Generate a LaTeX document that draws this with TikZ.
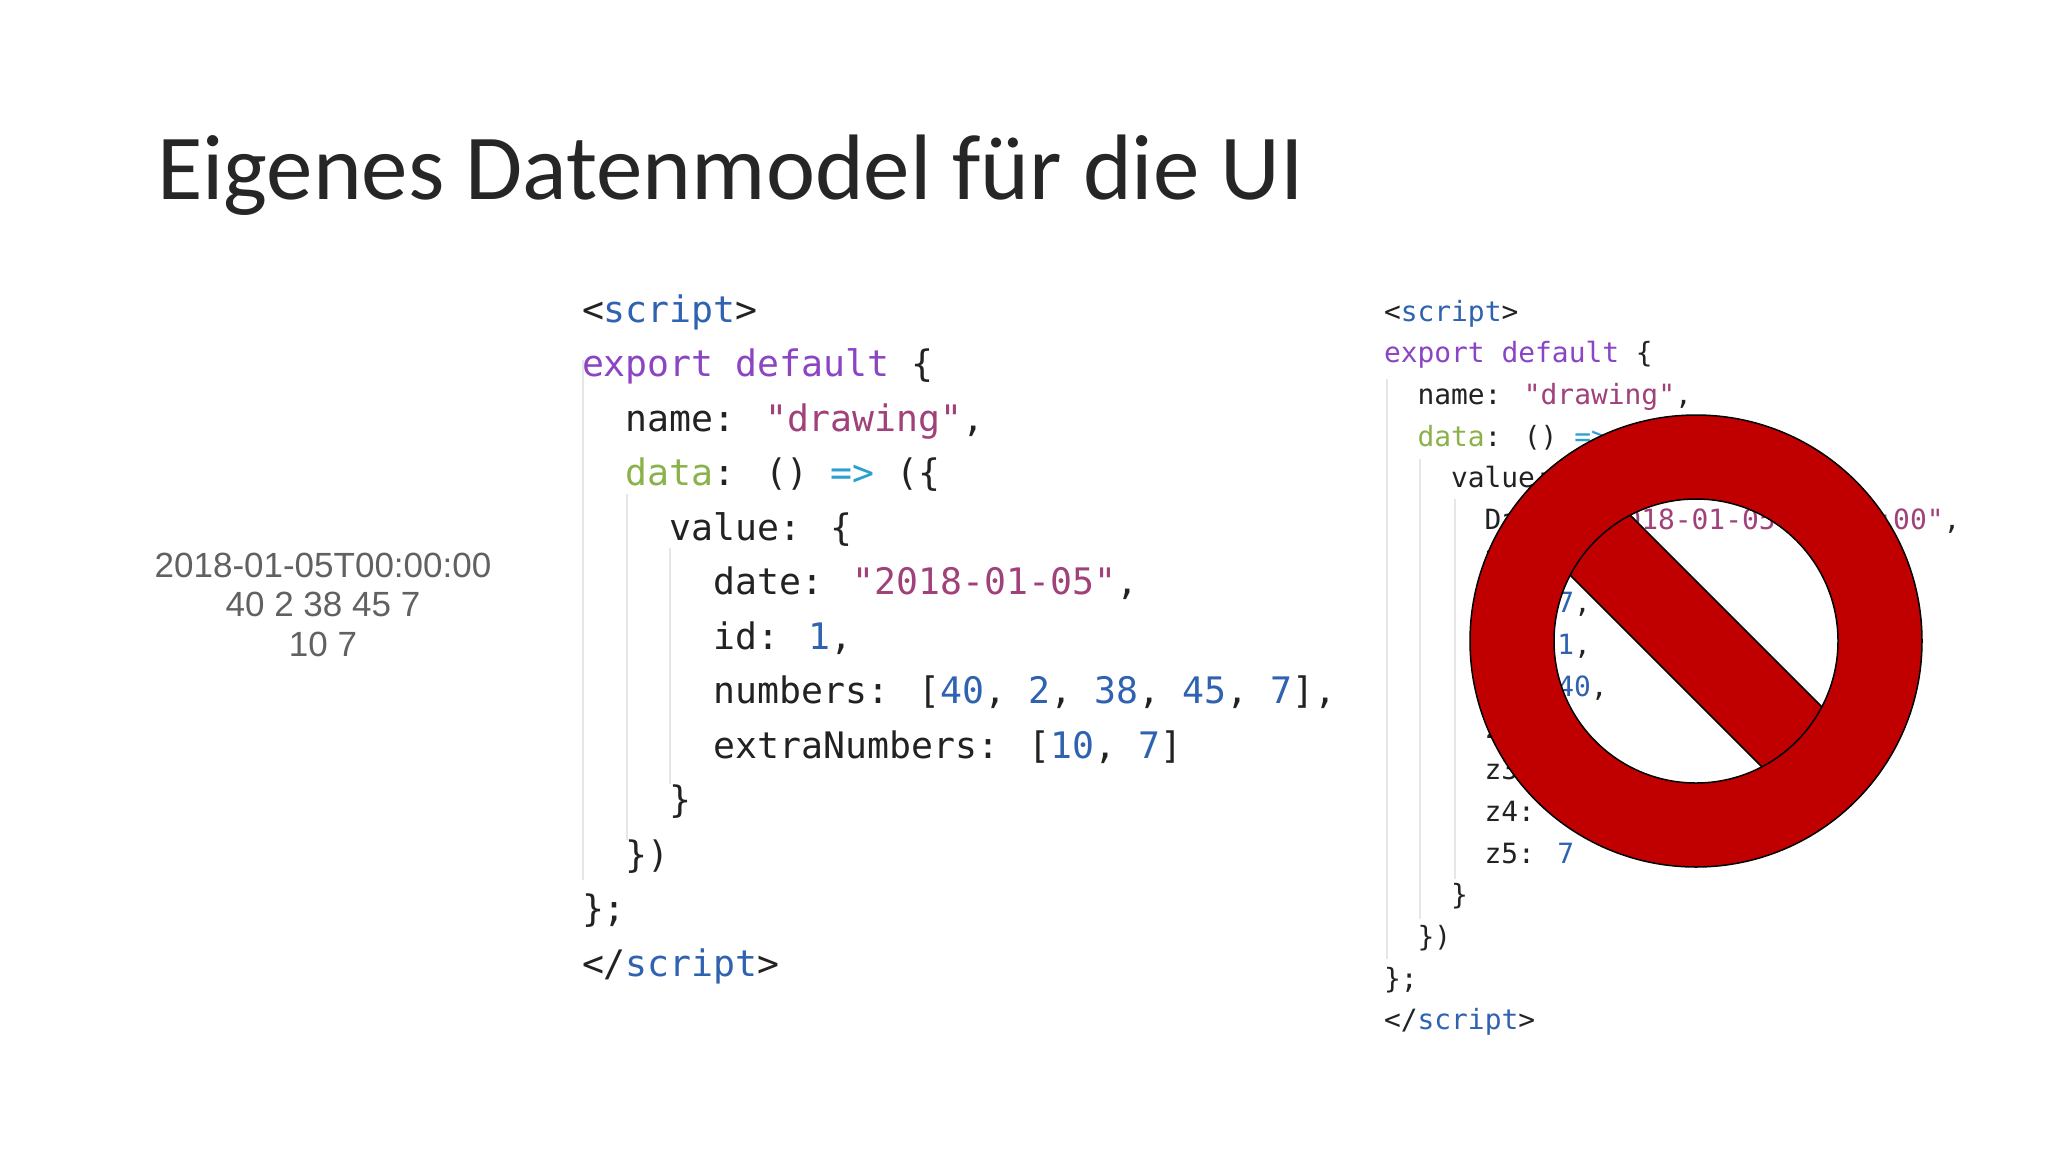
\documentclass[tikz,border=0pt]{standalone}
\usepackage{fontspec}
\usetikzlibrary{calc}
\setmainfont{Carlito}
\newfontfamily\arialf{Liberation Sans}
\newfontfamily\codef{DejaVu Sans Mono}
\definecolor{tit}{HTML}{262626}
\definecolor{kw}{HTML}{8B45C4}
\definecolor{tag}{HTML}{2F62B0}
\definecolor{str}{HTML}{A0417A}
\definecolor{grn}{HTML}{8BB24A}
\definecolor{arr}{HTML}{2AA0D0}
\definecolor{num}{HTML}{2F62B0}
\definecolor{dk}{HTML}{222222}
\definecolor{guide}{HTML}{E6E6E6}
\definecolor{nored}{HTML}{C00000}
\newcommand\Tg[1]{\textcolor{tag}{#1}}
\newcommand\Kw[1]{\textcolor{kw}{#1}}
\newcommand\St[1]{\textcolor{str}{#1}}
\newcommand\Gr[1]{\textcolor{grn}{#1}}
\newcommand\Ar[1]{\textcolor{arr}{#1}}
\newcommand\Nm[1]{\textcolor{num}{#1}}
\begin{document}
\begin{tikzpicture}[x=1pt,y=-1pt,
  every node/.style={inner sep=0pt,outer sep=0pt},
  codeL/.style={anchor=base west,text=dk,font=\codef\fontsize{36.5}{40}\selectfont},
  codeR/.style={anchor=base west,text=dk,font=\codef\fontsize{27.9}{30}\selectfont},
  guideln/.style={draw=guide,line width=1.5pt}]
\useasboundingbox (0,0) rectangle (2048,1152);
\fill[white] (0,0) rectangle (2048,1152);
\node[anchor=base west,text=tit,font=\fontsize{93}{100}\selectfont] (title) at (157,199) {Eigenes Datenmodel für die UI};
% left raw output
\node[anchor=base,text=black!62,font=\arialf\fontsize{35}{40}\selectfont] (r1) at (323,577) {2018-01-05T00:00:00};
\node[anchor=base,text=black!62,font=\arialf\fontsize{35}{40}\selectfont] (r2) at (323,616) {40 2 38 45 7};
\node[anchor=base,text=black!62,font=\arialf\fontsize{35}{40}\selectfont] (r3) at (323,656) {10 7};
% left code guides
\draw[guideln] (583,360) -- (583,880);
\draw[guideln] (627,494) -- (627,840);
\draw[guideln] (670,548) -- (670,784);
% left code
\def\cw{21.93}
\node[codeL] (a0) at (582,322) {<\Tg{script}>};
\node[codeL] (a1) at (582,376.5) {\Kw{export} \Kw{default} \{};
\node[codeL] (a2) at ({582+2*\cw},431) {name: \St{"drawing"},};
\node[codeL] (a3) at ({582+2*\cw},485.5) {\Gr{data}: () \Ar{=>} (\{};
\node[codeL] (a4) at ({582+4*\cw},540) {value: \{};
\node[codeL] (a5) at ({582+6*\cw},594.5) {date: \St{"2018-01-05"},};
\node[codeL] (a6) at ({582+6*\cw},649) {id: \Nm{1},};
\node[codeL] (a7) at ({582+6*\cw},703.5) {numbers: [\Nm{40}, \Nm{2}, \Nm{38}, \Nm{45}, \Nm{7}],};
\node[codeL] (a8) at ({582+6*\cw},758) {extraNumbers: [\Nm{10}, \Nm{7}]};
\node[codeL] (a9) at ({582+4*\cw},812.5) {\}};
\node[codeL] (a10) at ({582+2*\cw},867) {\})};
\node[codeL] (a11) at (582,921.5) {\};};
\node[codeL] (a12) at (582,976) {</\Tg{script}>};
% right code guides
\draw[guideln] (1387,379) -- (1387,959);
\draw[guideln] (1420,459) -- (1420,919);
\draw[guideln] (1455,499) -- (1455,879);
% right code
\def\rw{16.75}
\def\rb{321}
\def\rs{41.7}
\node[codeR] (b0) at (1384,\rb) {<\Tg{script}>};
\node[codeR] (b1) at (1384,{\rb+1*\rs}) {\Kw{export} \Kw{default} \{};
\node[codeR] (b2) at ({1384+2*\rw},{\rb+2*\rs}) {name: \St{"drawing"},};
\node[codeR] (b3) at ({1384+2*\rw},{\rb+3*\rs}) {\Gr{data}: () \Ar{=>} (\{};
\node[codeR] (b4) at ({1384+4*\rw},{\rb+4*\rs}) {value: \{};
\node[codeR] (b5) at ({1384+6*\rw},{\rb+5*\rs}) {Date: \St{"2018-01-05T00:00:00"},};
\node[codeR] (b6) at ({1384+6*\rw},{\rb+6*\rs}) {Zahl: 4,};
\node[codeR] (b7) at ({1384+6*\rw},{\rb+7*\rs}) {Sz: \Nm{7},};
\node[codeR] (b8) at ({1384+6*\rw},{\rb+8*\rs}) {Id: \Nm{1},};
\node[codeR] (b9) at ({1384+6*\rw},{\rb+9*\rs}) {z1: \Nm{40},};
\node[codeR] (b10) at ({1384+6*\rw},{\rb+10*\rs}) {z2: \Nm{2},};
\node[codeR] (b11) at ({1384+6*\rw},{\rb+11*\rs}) {z3: \Nm{38},};
\node[codeR] (b12) at ({1384+6*\rw},{\rb+12*\rs}) {z4: \Nm{45},};
\node[codeR] (b13) at ({1384+6*\rw},{\rb+13*\rs}) {z5: \Nm{7}};
\node[codeR] (b14) at ({1384+4*\rw},{\rb+14*\rs}) {\}};
\node[codeR] (b15) at ({1384+2*\rw},{\rb+15*\rs}) {\})};
\node[codeR] (b16) at (1384,{\rb+16*\rs}) {\};};
\node[codeR] (b17) at (1384,{\rb+17*\rs}) {</\Tg{script}>};
% no sign
\coordinate (c) at (1696,641);
\fill[nored,even odd rule] (c) circle[radius=226] (c) circle[radius=142];
\draw[black,line width=1.5pt] (c) circle[radius=226];
\begin{scope}
\clip (c) circle[radius=142];
\fill[nored] ($(c)+(-200,-200)+(30,-30)$) -- ($(c)+(200,200)+(30,-30)$) -- ($(c)+(200,200)+(-30,30)$) -- ($(c)+(-200,-200)+(-30,30)$) -- cycle;
\draw[black,line width=1.5pt] ($(c)+(-200,-200)+(30,-30)$) -- ($(c)+(200,200)+(30,-30)$);
\draw[black,line width=1.5pt] ($(c)+(200,200)+(-30,30)$) -- ($(c)+(-200,-200)+(-30,30)$);
\end{scope}
\draw[black,line width=1.5pt] (c) circle[radius=142];
\end{tikzpicture}
\end{document}
